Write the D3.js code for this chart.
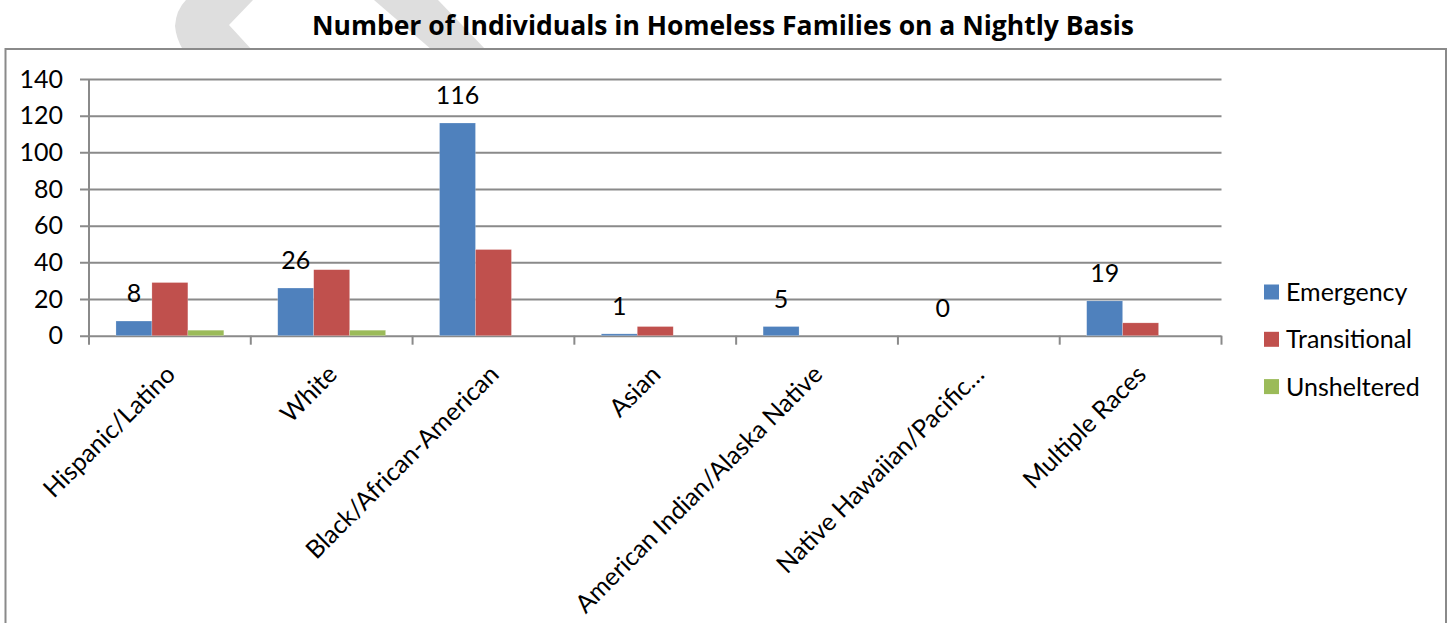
<!DOCTYPE html>
<html>
<head>
<meta charset="utf-8">
<script src="https://cdn.jsdelivr.net/npm/d3@7"></script>
<style>
  html, body { margin: 0; padding: 0; background: #fff; }
  svg { display: block; font-family: Lato, "Open Sans", sans-serif; }
</style>
</head>
<body>
<svg id="chart" width="1448" height="623"></svg>
<script>
// Chart data
const categories = [
  "Hispanic/Latino", "White", "Black/African-American", "Asian",
  "American Indian/Alaska Native", "Native Hawaiian/Pacific\u2026", "Multiple Races"
];
const seriesNames = ["Emergency", "Transitional", "Unsheltered"];
const emergency    = [8, 26, 116, 1, 5, 0, 19];
const transitional = [29, 36, 47, 5, 0, 0, 7];
const unsheltered  = [3, 3, 0, 0, 0, 0, 0];
const seriesColors = ["#4F81BD", "#C0504D", "#9BBB59"];
const yTicks = [0, 20, 40, 60, 80, 100, 120, 140];
const title = "Number of Individuals in Homeless Families on a Nightly Basis";

const seriesValues = [emergency, transitional, unsheltered];

const svg = d3.select("#chart");
const plot = { left: 89, right: 1221.5, top: 79, bottom: 335.7 };
const gridColor = "#8a8a8a";
const fontSize = 25;

// Light decorative chevron behind the title
const deco = svg.append("g").attr("fill", "#dedede");
deco.append("path")
  .attr("d", "M186,0 L253,0 L229,25 L252,50 L183,50 Q176,38 175,26 Q176,10 186,0 Z");
deco.append("path")
  .attr("d", "M374,0 L438,0 L486,50 L432,50 Z");

// Chart frame
svg.append("rect")
  .attr("x", 5.5).attr("y", 49)
  .attr("width", 1440.5).attr("height", 620)
  .attr("fill", "#fff")
  .attr("stroke", gridColor).attr("stroke-width", 2);

// Title
svg.append("text")
  .attr("x", 723).attr("y", 35)
  .attr("text-anchor", "middle")
  .attr("font-family", "'Open Sans', Lato, sans-serif")
  .attr("font-weight", "bold")
  .attr("font-size", 26.5)
  .attr("fill", "#000")
  .text(title);

// Scales
const x0 = d3.scaleBand().domain(categories).range([plot.left, plot.right]).padding(0);
const x1 = d3.scaleBand().domain(seriesNames).range([0, x0.bandwidth()])
  .paddingInner(0).paddingOuter(0.75);
const y = d3.scaleLinear().domain([0, 140]).range([plot.bottom, plot.top]);

// Horizontal gridlines and y-axis labels
const yAxis = d3.axisLeft(y)
  .tickValues(yTicks)
  .tickSize(-(plot.right - plot.left))
  .tickSizeOuter(0)
  .tickPadding(26);
const yg = svg.append("g")
  .attr("transform", `translate(${plot.left},0)`)
  .call(yAxis);
yg.select(".domain").remove();
yg.selectAll(".tick line")
  .attr("x1", -9)
  .attr("stroke", gridColor).attr("stroke-width", 2);
yg.selectAll(".tick text")
  .attr("font-size", fontSize)
  .attr("font-family", "Lato, sans-serif")
  .attr("fill", "#000");

// Vertical axis line
svg.append("line")
  .attr("x1", plot.left).attr("x2", plot.left)
  .attr("y1", plot.top).attr("y2", plot.bottom + 9)
  .attr("stroke", gridColor).attr("stroke-width", 2);

// Category boundary ticks on the x axis
const boundaries = categories.map(c => x0(c)).concat([plot.right]);
svg.append("g").selectAll("line")
  .data(boundaries.slice(1))
  .join("line")
  .attr("x1", d => d).attr("x2", d => d)
  .attr("y1", plot.bottom).attr("y2", plot.bottom + 9)
  .attr("stroke", gridColor).attr("stroke-width", 2);

// Bars
const barData = [];
categories.forEach((c, i) => {
  seriesNames.forEach((s, j) => {
    barData.push({ cat: c, series: s, value: seriesValues[j][i], color: seriesColors[j] });
  });
});
svg.append("g").selectAll("rect")
  .data(barData)
  .join("rect")
  .attr("x", d => x0(d.cat) + x1(d.series))
  .attr("width", x1.bandwidth())
  .attr("y", d => y(d.value))
  .attr("height", d => y(0) - y(d.value))
  .attr("fill", d => d.color)
  .attr("stroke", "#fff").attr("stroke-opacity", 0.35).attr("stroke-width", 0.6);

// Value labels for the Emergency series
svg.append("g").selectAll("text")
  .data(categories.map((c, i) => ({ cat: c, value: emergency[i] })))
  .join("text")
  .attr("x", d => x0(d.cat) + x1("Emergency") + x1.bandwidth() / 2)
  .attr("y", d => y(d.value) - 19)
  .attr("text-anchor", "middle")
  .attr("font-size", fontSize)
  .attr("fill", "#000")
  .text(d => d.value);

// Rotated category labels
svg.append("g").selectAll("text")
  .data(categories)
  .join("text")
  .attr("transform", d => `translate(${x0(d) + x0.bandwidth() / 2 + 7},376) rotate(-45)`)
  .attr("text-anchor", "end")
  .attr("font-size", fontSize)
  .attr("fill", "#000")
  .text(d => d);

// Legend
const legend = svg.append("g").selectAll("g")
  .data(seriesNames)
  .join("g")
  .attr("transform", (d, i) => `translate(1264,${292 + i * 47.3})`);
legend.append("rect")
  .attr("x", 0).attr("y", -7.5)
  .attr("width", 15).attr("height", 15)
  .attr("fill", (d, i) => seriesColors[i]);
legend.append("text")
  .attr("x", 22).attr("y", 0).attr("dy", "0.36em")
  .attr("font-size", fontSize)
  .attr("fill", "#000")
  .text(d => d);
</script>
</body>
</html>
